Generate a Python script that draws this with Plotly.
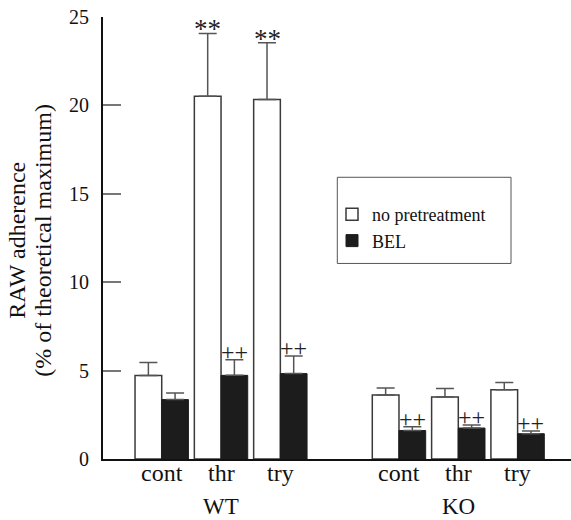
import plotly.graph_objects as go

# ---- data ----
groups = ["WT", "KO"]
treatments = ["cont", "thr", "try"]
no_pre = [4.72, 20.52, 20.33, 3.62, 3.50, 3.92]
no_pre_err = [0.74, 3.55, 3.21, 0.39, 0.49, 0.40]
bel = [3.36, 4.73, 4.83, 1.61, 1.75, 1.43]
bel_err = [0.38, 0.89, 0.99, 0.21, 0.17, 0.15]
sig_no_pre = ["", "**", "**", "", "", ""]
sig_bel = ["", "++", "++", "++", "++", "++"]

FONT = "'Liberation Serif', 'Times New Roman', Times, serif"

# x positions: groups separated by an empty slot
xpos = []
ticktext = []
for g, grp in enumerate(groups):
    for i, t in enumerate(treatments):
        xpos.append(g * (len(treatments) + 1) + i)
        ticktext.append(t)

fig = go.Figure()
fig.add_trace(go.Bar(
    x=xpos, y=no_pre, name="no pretreatment",
    marker=dict(color="white", line=dict(color="#3a3a3a", width=1.5)),
    error_y=dict(type="data", array=no_pre_err, arrayminus=[0] * len(no_pre_err),
                 symmetric=False, color="#555555", thickness=1.5, width=9),
))
fig.add_trace(go.Bar(
    x=xpos, y=bel, name="BEL",
    marker=dict(color="#1c1c1c", line=dict(color="#1c1c1c", width=1)),
    error_y=dict(type="data", array=bel_err, arrayminus=[0] * len(bel_err),
                 symmetric=False, color="#555555", thickness=1.5, width=9),
))

annotations = []
off = 0.225
for x, v, e, s in zip(xpos, no_pre, no_pre_err, sig_no_pre):
    if s:
        annotations.append(dict(x=x - off, y=v + e, xref="x", yref="y", text=s,
                                showarrow=False, yanchor="bottom", yshift=-13,
                                font=dict(family=FONT, size=27, color="#222")))
for x, v, e, s in zip(xpos, bel, bel_err, sig_bel):
    if s:
        annotations.append(dict(x=x + off, y=v + e, xref="x", yref="y", text=s,
                                showarrow=False, yanchor="middle", yshift=8,
                                font=dict(family=FONT, size=24, color="#222")))
# category labels
for x, t in zip(xpos, ticktext):
    annotations.append(dict(x=x, y=(458.5 - 472) / 441.2, xref="x", yref="paper", text=t,
                            showarrow=False, yanchor="middle",
                            font=dict(family=FONT, size=24, color="#111")))
# group labels
for g, grp in enumerate(groups):
    cx = g * (len(treatments) + 1) + (len(treatments) - 1) / 2
    annotations.append(dict(x=cx, y=(458.5 - 506) / 441.2, xref="x", yref="paper", text=grp,
                            showarrow=False, yanchor="middle",
                            font=dict(family=FONT, size=23, color="#111")))
# y-axis title (two lines)
annotations.append(dict(x=(17 - 103) / 468, y=0.494, xref="paper", yref="paper",
                        text="RAW adherence", textangle=-90, showarrow=False,
                        xanchor="center", yanchor="middle",
                        font=dict(family=FONT, size=24, color="#111")))
annotations.append(dict(x=(43 - 103) / 468, y=0.494, xref="paper", yref="paper",
                        text="(% of theoretical maximum)", textangle=-90, showarrow=False,
                        xanchor="center", yanchor="middle",
                        font=dict(family=FONT, size=24, color="#111")))

fig.update_layout(
    width=571, height=520,
    margin=dict(l=103, r=0, t=17, b=61),
    paper_bgcolor="white", plot_bgcolor="white",
    font=dict(family=FONT, color="#111"),
    barmode="group", bargap=0.1, bargroupgap=0,
    showlegend=True,
    legend=dict(x=(332 - 103) / 468, y=(458.5 - 196) / 441.2, xanchor="left", yanchor="top",
                bgcolor="rgba(0,0,0,0)", borderwidth=0,
                font=dict(family=FONT, size=18, color="#111")),
    annotations=annotations,
    shapes=[dict(type="rect", xref="paper", yref="paper",
                 x0=(337.3 - 103) / 468, x1=(511 - 103) / 468,
                 y0=(458.5 - 263.3) / 441.2, y1=(458.5 - 177.3) / 441.2,
                 line=dict(color="#555", width=1), fillcolor="rgba(0,0,0,0)")],
    xaxis=dict(range=[-0.99, 6.9], tickvals=xpos, showticklabels=False,
               showline=True, linecolor="#111", linewidth=2, ticks="",
               showgrid=False, zeroline=False),
    yaxis=dict(range=[0, 25], tickvals=[0, 5, 10, 15, 20, 25],
               showline=True, linecolor="#111", linewidth=2,
               ticks="inside", ticklen=18, tickwidth=1.5, tickcolor="#777",
               showgrid=False, zeroline=False, ticklabelstandoff=8,
               tickfont=dict(family=FONT, size=20, color="#111")),
)

fig.write_html("out.html")
